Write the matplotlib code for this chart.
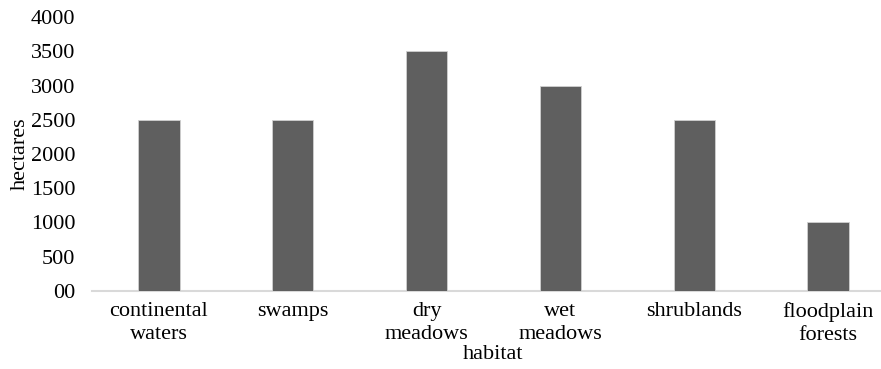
import matplotlib
matplotlib.use("Agg")
import matplotlib.pyplot as plt

categories = ["continental\nwaters", "swamps", "dry\nmeadows", "wet\nmeadows", "shrublands", "floodplain\nforests"]
values = [2500, 2500, 3500, 3000, 2500, 1000]
yticks = [0, 500, 1000, 1500, 2000, 2500, 3000, 3500, 4000]
ytick_labels = ["00", "500", "1000", "1500", "2000", "2500", "3000", "3500", "4000"]

plt.rcParams['font.family'] = ['Liberation Serif', 'DejaVu Serif']
fs = 16
fig = plt.figure(figsize=(8.81, 3.69), dpi=100)
ax = fig.add_axes([0.1044, 0.2114, 0.9115, 0.7425])

x = list(range(len(categories)))
ax.bar(x, values, width=0.31, color="#5f5f5f", edgecolor="#d0d0d0", linewidth=0.6, zorder=3)
ax.set_xlim(-0.5, len(categories) - 0.5)
ax.set_ylim(0, 4000)
ax.set_yticks(yticks)
ax.set_yticklabels(ytick_labels)
ax.set_xticks(x)
ax.set_xticklabels(categories, linespacing=1.25)
ax.tick_params(axis='both', length=0, labelsize=fs, colors="black")
ax.tick_params(axis='y', pad=12)
ax.tick_params(axis='x', pad=8)
for s in ["top", "right", "left"]:
    ax.spines[s].set_visible(False)
ax.spines["bottom"].set_color("#d9d9d9")
ax.spines["bottom"].set_linewidth(1.5)
ax.set_ylabel("hectares", fontsize=fs, labelpad=0.5)
ax.set_xlabel("habitat", fontsize=fs, labelpad=0)
fig.savefig("out.png", dpi=100)
